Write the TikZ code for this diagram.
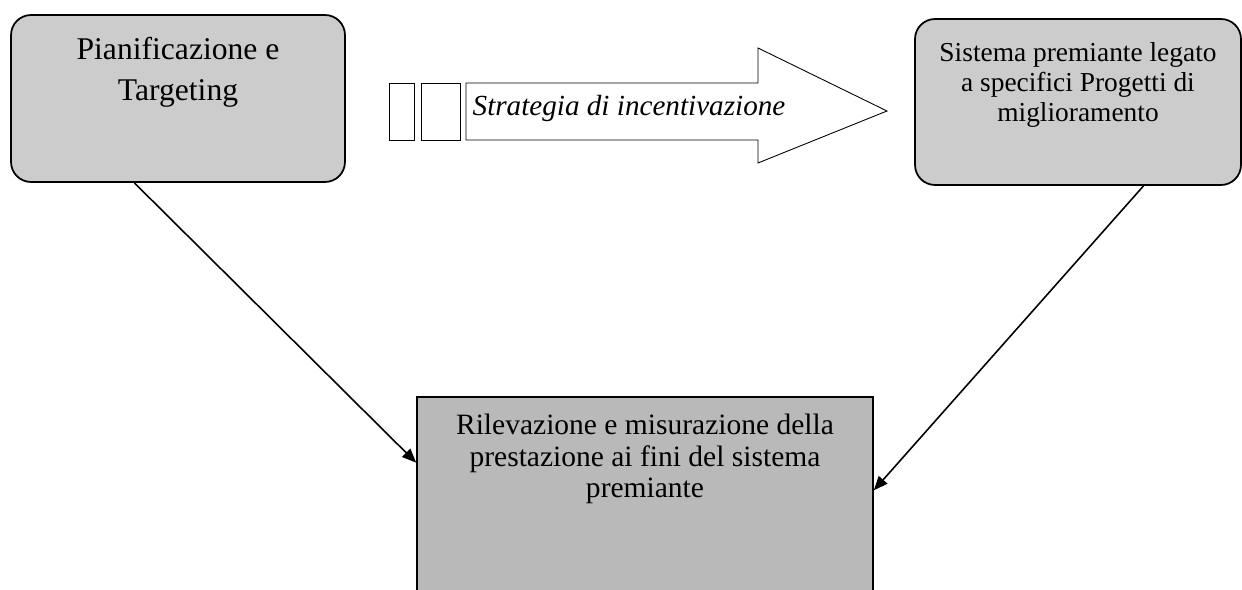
\documentclass[tikz,border=0pt]{standalone}
\usepackage{fontspec}
\setmainfont{Liberation Serif}
\usetikzlibrary{positioning,calc,arrows.meta}

\begin{document}
\begin{tikzpicture}[x=0.02cm, y=-0.02cm,
    roundbox/.style={draw, line width=1pt, rounded corners=0.4cm, fill=gray!40},
    flatbox/.style={draw, line width=1pt, fill=gray!55},
    boxtext/.style={align=center, inner sep=0pt},
    gapbox/.style={draw, line width=0.5pt, fill=white},
    link/.style={line width=0.9pt, -{Triangle[length=8pt,width=6.5pt]}}]

    % Frame
    \clip (0, 0) rectangle (1242, 590);
    \fill[white] (0, 0) rectangle (1242, 590);

    % Planning box
        \node[roundbox, minimum width=6.68cm, minimum height=3.34cm] (plan) at (178, 98.5) {};
        \node[boxtext, font=\fontsize{18}{23}\selectfont, below=0.46cm of plan.north] (planText) {Pianificazione e\\Targeting};

    % Reward box
        \node[roundbox, minimum width=6.52cm, minimum height=3.32cm] (reward) at (1078, 102) {};
        \node[boxtext, font=\fontsize{15.6}{17}\selectfont, below=0.49cm of reward.north] (rewardText) {Sistema premiante legato\\a specifici Progetti di\\miglioramento};

    % Measure box
        \node[flatbox, minimum width=9.12cm, minimum height=4.06cm] (measure) at (645, 498.5) {};
        \node[boxtext, font=\fontsize{16.8}{17.8}\selectfont, below=0.36cm of measure.north] (measureText) {Rilevazione e misurazione della\\prestazione ai fini del sistema\\premiante};

    % Strategy arrow
        % variables
        \def\shaftTop{83}
        \def\shaftBottom{140}
        \def\headTop{48}
        \def\headBottom{163}
        \def\headStart{758}

        % small boxes
        \draw[gapbox] (389, \shaftTop) rectangle (414, \shaftBottom);
        \draw[gapbox] (421, \shaftTop) rectangle (460, \shaftBottom);

        % arrow body
        \draw[gapbox] (466, \shaftTop) -- (\headStart, \shaftTop) -- (\headStart, \headTop)
            -- (887, 111) -- (\headStart, \headBottom) -- (\headStart, \shaftBottom)
            -- (466, \shaftBottom) -- cycle;
        \node[font=\fontsize{16.6}{18}\selectfont\itshape, anchor=base] (strategy) at (629, 116) {Strategia di incentivazione};

    % Links
    \draw[link] ($(plan.south west)!0.37!(plan.south east)$) -- ($(measure.north west)!0.325!(measure.south west)$);
    \draw[link] ($(reward.south west)!0.70!(reward.south east)$) -- ($(measure.north east)!0.46!(measure.south east)$);
\end{tikzpicture}
\end{document}
